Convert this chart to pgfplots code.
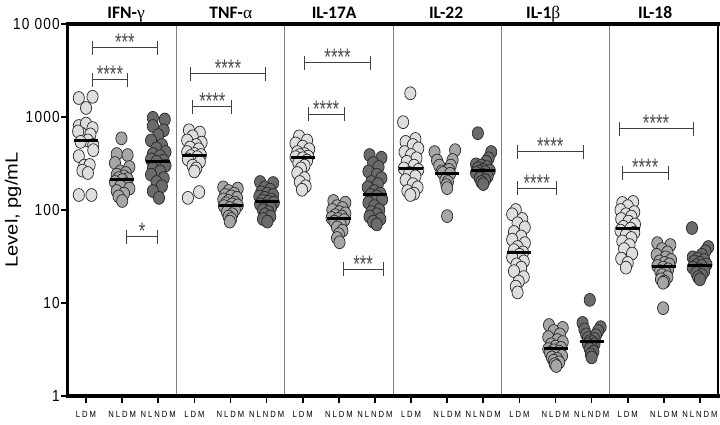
\documentclass[border=0pt]{standalone}
\usepackage{fontspec}
\setmainfont{Liberation Sans}
\newfontfamily\tickfont[FakeStretch=0.85,LetterSpace=8]{Liberation Sans}
\newfontfamily\xtickfont[FakeStretch=0.85,LetterSpace=22]{Liberation Sans}
\newfontfamily\ylabfont[FakeStretch=1.15]{Liberation Sans}
\newfontfamily\titlefont{Carlito}
\newfontfamily\grk{Liberation Serif}
\newfontfamily\starfont[FakeStretch=0.7]{Liberation Sans}
\usepackage{pgfplots}
\pgfplotsset{compat=1.18}
\usetikzlibrary{calc}
\definecolor{cL}{HTML}{DEDEDE}
\definecolor{cN}{HTML}{A6A6A6}
\definecolor{cD}{HTML}{6B6B6B}
\newcommand\sig[4]{%
 \draw[line width=1pt, black!75] (axis cs:#1,#3) -- (axis cs:#2,#3);
 \draw[line width=1pt, black!75] ([yshift=-7pt]axis cs:#1,#3) -- ([yshift=7pt]axis cs:#1,#3);
 \draw[line width=1pt, black!75] ([yshift=-7pt]axis cs:#2,#3) -- ([yshift=7pt]axis cs:#2,#3);
 \node[anchor=base, inner sep=0pt, yshift=-3pt, font=\starfont\fontsize{24}{24}\selectfont, text=black!70] at ($(axis cs:#1,#3)!0.5!(axis cs:#2,#3)$) {#4};
}
\newcommand\ptitle[2]{%
 \node[anchor=base, inner sep=0pt, yshift=5pt, font=\titlefont\bfseries\fontsize{17.5}{18}\selectfont] at (axis cs:#1,10000) {#2};
}
\begin{document}
\begin{tikzpicture}
\begin{axis}[
  scale only axis, width=650pt, height=372pt,
  at={(0,0)}, anchor=south west,
  xmin=0, xmax=18, ymode=log, ymin=1, ymax=10000,
  axis line style={draw=none},
  clip=false,
  xtick={0.5,1.5,2.5,3.5,4.5,5.5,6.5,7.5,8.5,9.5,10.5,11.5,12.5,13.5,14.5,15.5,16.5,17.5},
  xticklabels={LDM,NLDM,NLNDM,LDM,NLDM,NLNDM,LDM,NLDM,NLNDM,LDM,NLDM,NLNDM,LDM,NLDM,NLNDM,LDM,NLDM,NLNDM},
  ytick={1,10,100,1000,10000},
  yticklabels={1,10,100,1000,{10 000}},
  yminorticks=false, xminorticks=false,
  xtick pos=bottom, ytick pos=left, tick align=outside,
  major tick length=7pt,
  x tick style={line width=1.6pt, black},
  y tick style={line width=2.5pt, black},
  yticklabel style={font=\tickfont\fontsize{16}{16}\selectfont, inner sep=1pt},
  xticklabel style={font=\xtickfont\fontsize{9}{9}\selectfont, yshift=-5pt},
]
\coordinate (LL) at (rel axis cs:0,0);
\coordinate (UR) at (rel axis cs:1,1);
% panel separators
\draw[gray, line width=1pt] (axis cs:3,1) -- (axis cs:3,10000);
\draw[gray, line width=1pt] (axis cs:6,1) -- (axis cs:6,10000);
\draw[gray, line width=1pt] (axis cs:9,1) -- (axis cs:9,10000);
\draw[gray, line width=1pt] (axis cs:12,1) -- (axis cs:12,10000);
\draw[gray, line width=1pt] (axis cs:15,1) -- (axis cs:15,10000);
% frame
\draw[line width=3pt, line cap=rect] (rel axis cs:0,0) -- (rel axis cs:0,1);
\draw[line width=4pt, line cap=rect] (rel axis cs:0,0) -- (rel axis cs:1,0);
\draw[line width=4pt, line cap=rect] (rel axis cs:0,1) -- (rel axis cs:1,1);
\draw[line width=1.5pt] (rel axis cs:1,0) -- (rel axis cs:1,1);

% LDM
\addplot[only marks, mark=*, mark size=5.6pt, mark options={fill=cL, draw=black!85, line width=0.7pt, yscale=1.15}] coordinates {
(0.30,1600) (0.68,1650) (0.50,1250) (0.30,800) (0.50,850) (0.68,760) (0.38,660) (0.62,650) (0.28,700) (0.55,560) (0.35,540) (0.70,500) (0.30,380) (0.70,440) (0.45,300) (0.60,305) (0.40,265) (0.55,250) (0.30,145) (0.65,145)
(3.35,720) (3.65,680) (3.45,620) (3.30,560) (3.70,530) (3.55,500) (3.38,470) (3.62,450) (3.30,420) (3.50,400) (3.68,390) (3.40,380) (3.58,370) (3.32,350) (3.65,330) (3.45,300) (3.55,280) (3.50,260) (3.32,135) (3.63,156)
(6.40,620) (6.62,560) (6.30,520) (6.50,480) (6.68,450) (6.35,420) (6.55,400) (6.42,390) (6.65,375) (6.30,370) (6.50,360) (6.62,340) (6.38,320) (6.55,300) (6.45,280) (6.35,250) (6.55,220) (6.42,200) (6.58,180) (6.48,165)
(9.48,1800) (9.28,880) (9.62,580) (9.35,540) (9.55,500) (9.70,460) (9.32,420) (9.50,390) (9.65,360) (9.38,330) (9.58,300) (9.30,280) (9.70,270) (9.45,250) (9.62,230) (9.35,210) (9.55,190) (9.68,175) (9.40,160) (9.58,150) (9.48,145)
(12.40,100) (12.30,90) (12.58,80) (12.45,72) (12.65,65) (12.35,58) (12.55,52) (12.30,48) (12.65,44) (12.45,40) (12.35,37) (12.60,35) (12.50,33) (12.30,31) (12.62,28) (12.42,26) (12.55,24) (12.35,22) (12.62,19) (12.48,17) (12.40,15) (12.45,13)
(15.35,119) (15.65,122) (15.50,110) (15.30,100) (15.68,95) (15.45,90) (15.60,85) (15.32,80) (15.52,75) (15.70,70) (15.38,66) (15.58,63) (15.30,60) (15.68,57) (15.45,54) (15.60,50) (15.35,46) (15.55,42) (15.40,38) (15.62,34) (15.32,30) (15.50,27) (15.45,24)
};
% NLDM
\addplot[only marks, mark=*, mark size=5.6pt, mark options={fill=cN, draw=black!85, line width=0.7pt, yscale=1.15}] coordinates {
(1.48,590) (1.35,400) (1.65,390) (1.30,320) (1.70,290) (1.45,260) (1.60,250) (1.35,240) (1.55,230) (1.40,220) (1.65,215) (1.50,210) (1.30,200) (1.60,190) (1.45,180) (1.70,170) (1.35,160) (1.55,150) (1.40,140) (1.50,125)
(4.30,175) (4.70,170) (4.45,160) (4.60,150) (4.35,145) (4.52,140) (4.68,135) (4.30,130) (4.45,125) (4.62,120) (4.38,118) (4.55,115) (4.70,112) (4.32,110) (4.48,105) (4.62,100) (4.40,95) (4.55,90) (4.45,85) (4.52,80) (4.48,75)
(7.35,125) (7.68,120) (7.45,110) (7.60,105) (7.32,100) (7.52,95) (7.68,92) (7.40,88) (7.58,85) (7.30,82) (7.48,80) (7.65,78) (7.38,75) (7.55,70) (7.45,65) (7.60,60) (7.50,55) (7.45,50) (7.52,45)
(10.15,420) (10.72,440) (10.22,340) (10.65,345) (10.28,300) (10.60,300) (10.35,260) (10.55,270) (10.42,240) (10.50,230) (10.38,250) (10.58,245) (10.45,210) (10.52,200) (10.48,185) (10.50,172) (10.50,86)
(13.32,5.8) (13.70,5.4) (13.45,5.0) (13.62,4.6) (13.30,4.3) (13.55,4.0) (13.70,3.8) (13.38,3.6) (13.50,3.4) (13.65,3.3) (13.30,3.2) (13.45,3.1) (13.60,3.0) (13.35,2.9) (13.52,2.8) (13.68,2.7) (13.40,2.6) (13.55,2.5) (13.45,2.4) (13.60,2.3) (13.48,2.2) (13.52,2.1)
(16.32,44) (16.68,42) (16.45,38) (16.60,35) (16.30,33) (16.55,31) (16.70,29) (16.38,28) (16.52,27) (16.65,26) (16.32,25) (16.48,24) (16.62,23) (16.40,22) (16.55,21) (16.45,20) (16.60,19) (16.42,18) (16.52,17) (16.48,16.5) (16.48,8.8)
};
% NLNDM
\addplot[only marks, mark=*, mark size=5.6pt, mark options={fill=cD, draw=black!85, line width=0.7pt, yscale=1.15}] coordinates {
(2.35,980) (2.68,940) (2.35,800) (2.65,720) (2.50,640) (2.30,560) (2.60,500) (2.45,460) (2.70,420) (2.35,400) (2.55,380) (2.30,350) (2.65,340) (2.45,330) (2.70,300) (2.35,280) (2.55,260) (2.30,240) (2.65,220) (2.45,200) (2.60,180) (2.35,160) (2.52,135)
(5.32,200) (5.68,195) (5.45,175) (5.60,165) (5.35,155) (5.52,150) (5.68,145) (5.30,140) (5.45,135) (5.62,130) (5.38,125) (5.55,122) (5.70,120) (5.32,115) (5.48,110) (5.62,105) (5.40,100) (5.55,95) (5.45,90) (5.60,85) (5.40,80) (5.52,75)
(8.35,390) (8.68,365) (8.45,320) (8.60,290) (8.32,260) (8.55,240) (8.68,220) (8.40,200) (8.58,190) (8.30,175) (8.48,160) (8.65,150) (8.38,145) (8.55,140) (8.70,130) (8.32,120) (8.48,110) (8.62,100) (8.40,95) (8.55,90) (8.35,85) (8.65,80) (8.45,75) (8.55,70)
(11.35,670) (11.72,420) (11.65,360) (11.58,330) (11.30,310) (11.45,300) (11.60,290) (11.35,280) (11.50,270) (11.68,265) (11.40,260) (11.55,255) (11.30,250) (11.48,240) (11.62,230) (11.40,220) (11.55,210) (11.45,200) (11.50,190)
(14.45,10.8) (14.25,6.1) (14.75,5.5) (14.30,5.2) (14.68,5.0) (14.35,4.6) (14.62,4.5) (14.40,4.2) (14.58,4.1) (14.45,3.9) (14.52,3.8) (14.40,3.6) (14.58,3.6) (14.50,3.4) (14.45,3.2) (14.55,3.0) (14.48,2.8) (14.50,2.6)
(17.28,64) (17.73,40) (17.65,36) (17.55,33) (17.30,31) (17.45,30) (17.62,29) (17.35,28) (17.50,27) (17.68,26) (17.40,25.5) (17.55,25) (17.30,24) (17.48,23) (17.62,22) (17.40,21) (17.55,20) (17.45,19) (17.50,18)
};
% medians
\addplot[only marks, mark=-, mark size=12pt, mark options={line width=3pt, draw=black}] coordinates {
(0.5,552) (1.5,215) (2.5,336) (3.5,381) (4.5,113) (5.5,122) (6.5,371) (7.5,82) (8.5,145)
(9.5,276) (10.5,244) (11.5,263) (12.5,34.5) (13.5,3.28) (14.5,3.81) (15.5,62.5) (16.5,24.4) (17.5,25.6)
};
% significance brackets
\sig{0.665}{2.49}{5520}{***}
\sig{0.665}{1.66}{2500}{****}
\sig{1.61}{2.49}{51.3}{*}
\sig{3.38}{5.48}{2900}{****}
\sig{3.46}{4.54}{1282}{****}
\sig{6.54}{8.39}{3810}{****}
\sig{6.65}{7.65}{1077}{****}
\sig{7.62}{8.73}{23.2}{***}
\sig{12.44}{14.27}{421}{****}
\sig{12.44}{13.52}{172}{****}
\sig{15.26}{17.31}{743}{****}
\sig{15.35}{16.62}{250}{****}
% titles
\ptitle{1.61}{IFN-{\grk\mdseries γ}}
\ptitle{4.51}{TNF-{\grk\mdseries α}}
\ptitle{7.37}{IL-17A}
\ptitle{10.47}{IL-22}
\ptitle{13.16}{IL-1{\grk\mdseries β}}
\ptitle{16.26}{IL-18}
% y label
\node[xshift=-55pt, rotate=90, anchor=center, inner sep=0pt, font=\ylabfont\fontsize{17.5}{18}\selectfont] at (rel axis cs:0,0.5) {Level, pg/mL};
\end{axis}
\pgfresetboundingbox
\path ($(LL)+(-68pt,-28pt)$) rectangle ($(UR)+(2pt,24pt)$);
\end{tikzpicture}
\end{document}
